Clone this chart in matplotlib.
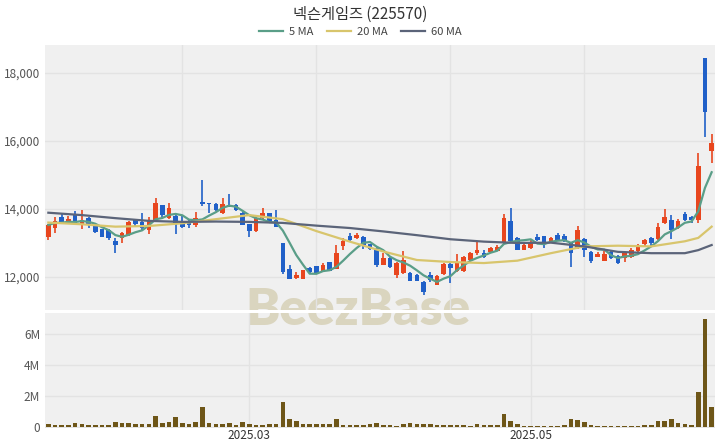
import matplotlib
matplotlib.use("Agg")
import matplotlib.pyplot as plt
from matplotlib.lines import Line2D
from matplotlib.patches import Rectangle
import numpy as np
import pandas as pd

plt.rcParams['font.family'] = ['Noto Sans CJK KR', 'DejaVu Sans']

title = "넥슨게임즈 (225570)"

# daily candles (open, high, low, close), Jan - Jun 2025
opens = [13180, 13450, 13770, 13580, 13820, 13540, 13720, 13550, 13400, 13380,
         13050, 13140, 13240, 13680, 13620, 13390, 13680, 14120, 13730, 13800,
         13580, 13600, 13530, 14210, 14170, 14160, 13880, 14130, 14130, 13870,
         13550, 13340, 13730, 13870, 13680, 12990, 12230, 11960, 11950, 12270,
         12320, 12160, 12430, 12240, 12900, 13210, 13160, 13180, 12960, 12840,
         12360, 12560, 12060, 12110, 12130, 12070, 11860, 12050, 11770, 12080,
         12390, 12180, 12180, 12500, 12700, 12700, 12730, 12770, 12990, 13640,
         13150, 12800, 12850, 13180, 13200, 13030, 13230, 13220, 12990, 12850,
         13130, 12740, 12600, 12480, 12740, 12610, 12550, 12580, 12750, 12970,
         13150, 13110, 13580, 13680, 13440, 13840, 13770, 13680, 18430, 15690]
highs = [13550, 13750, 13870, 13800, 13930, 13970, 13750, 13560, 13420, 13400,
         13150, 13330, 13650, 13700, 13870, 13750, 14310, 14130, 14170, 13820,
         13820, 13680, 13900, 14850, 14180, 14170, 14310, 14430, 14150, 13900,
         13560, 13820, 14020, 13890, 13970, 13000, 12350, 12140, 12210, 12300,
         12330, 12400, 12440, 12940, 13140, 13280, 13280, 13200, 12980, 12870,
         12720, 12580, 12440, 12760, 12150, 12100, 11880, 12140, 12050, 12400,
         12450, 12670, 12620, 12740, 13040, 12790, 12880, 12940, 13840, 14020,
         13170, 12980, 13100, 13250, 13210, 13170, 13280, 13270, 13010, 13510,
         13150, 12760, 12740, 12760, 12800, 12640, 12740, 12840, 12960, 13120,
         13170, 13600, 13990, 13820, 13700, 13920, 13790, 15640, 18440, 16200]
lows = [13100, 13300, 13580, 13560, 13560, 13400, 13430, 13300, 13180, 13100,
        12700, 13000, 13200, 13500, 13380, 13260, 13630, 13750, 13700, 13260,
        13450, 13430, 13480, 14100, 13880, 13950, 13860, 14050, 13930, 13520,
        13190, 13330, 13700, 13590, 13470, 12080, 11930, 11950, 11940, 12090,
        12100, 12150, 12170, 12230, 12800, 13020, 13120, 12830, 12800, 12300,
        12350, 12260, 11980, 12100, 11870, 11870, 11470, 11850, 11760, 12050,
        11830, 12150, 12160, 12480, 12650, 12550, 12700, 12750, 12980, 13040,
        12780, 12780, 12830, 13060, 12860, 13000, 13080, 13020, 12300, 12830,
        12600, 12420, 12580, 12470, 12530, 12390, 12450, 12560, 12730, 12900,
        12900, 13100, 13560, 13110, 13420, 13660, 13600, 13600, 16130, 15340]
closes = [13530, 13650, 13610, 13700, 13590, 13680, 13530, 13330, 13190, 13160,
          12950, 13280, 13630, 13560, 13440, 13680, 14170, 13820, 14020, 13580,
          13480, 13530, 13740, 14140, 14140, 13980, 14160, 14070, 13980, 13530,
          13340, 13720, 13870, 13610, 13480, 12140, 11950, 12050, 12200, 12150,
          12120, 12350, 12180, 12700, 13050, 13090, 13230, 12950, 12830, 12360,
          12570, 12280, 12420, 12500, 11890, 11890, 11550, 11920, 12030, 12370,
          12250, 12450, 12600, 12720, 12790, 12600, 12860, 12890, 13720, 13060,
          12800, 12940, 13020, 13090, 12980, 13150, 13090, 13100, 12700, 13380,
          12800, 12480, 12690, 12670, 12550, 12400, 12710, 12790, 12910, 13100,
          13000, 13480, 13770, 13390, 13650, 13680, 13670, 15260, 16840, 15950]

# volume in thousands of shares
volume_k = [170, 130, 130, 130, 215, 150, 130, 110, 130, 130,
            320, 215, 260, 150, 170, 190, 690, 260, 280, 600,
            260, 150, 280, 1290, 240, 150, 150, 240, 130, 300,
            150, 130, 130, 150, 170, 1610, 515, 390, 170, 150,
            150, 190, 170, 470, 130, 110, 90, 90, 150, 240,
            130, 110, 65, 150, 215, 150, 150, 170, 110, 110,
            110, 90, 110, 65, 150, 110, 90, 90, 800, 390,
            170, 65, 65, 65, 65, 65, 65, 130, 495, 430,
            300, 130, 65, 65, 65, 65, 65, 65, 65, 90,
            90, 365, 345, 495, 215, 170, 130, 2220, 6930, 1250]

# longer averages (they start before the visible window)
ma20_idx = [0, 5, 10, 15, 20, 25, 30, 35, 40, 45, 50, 55, 60, 65, 70, 75, 80, 85, 90, 95, 97, 99]
ma20_val = [13600, 13550, 13480, 13500, 13580, 13700, 13820, 13700, 13350, 13040, 12750,
            12500, 12440, 12410, 12480, 12700, 12900, 12920, 12900, 13050, 13150, 13480]
ma60_idx = [0, 5, 10, 15, 20, 25, 30, 35, 40, 45, 50, 55, 60, 65, 70, 75, 80, 85, 90, 95, 97, 99]
ma60_val = [13890, 13820, 13730, 13650, 13620, 13630, 13620, 13590, 13510, 13440, 13340,
            13230, 13110, 13040, 13000, 13010, 12900, 12740, 12700, 12700, 12790, 12940]

date_ticks = [30, 72]
date_labels = ["2025.03", "2025.05"]

RED = '#e8461e'
BLUE = '#2060c8'
BG = '#f0f0f0'
GRID = '#e3e3e3'

o = np.array(opens)
h = np.array(highs)
l = np.array(lows)
c = np.array(closes)
x = np.arange(len(c))
ma5 = pd.Series(c).rolling(5, min_periods=1).mean()
colors = [RED if cc >= oo else BLUE for oo, cc in zip(o, c)]

fig = plt.figure(figsize=(7.2, 4.48), dpi=100)
ax = fig.add_axes([45 / 720, 1 - 310 / 448, 670 / 720, 265 / 448])
axv = fig.add_axes([45 / 720, 1 - 428 / 448, 670 / 720, 115 / 448])

# panel backgrounds + watermark drawn below the axes
fig.patches.append(Rectangle((45 / 720, 1 - 310 / 448), 670 / 720, 265 / 448,
                             transform=fig.transFigure, facecolor=BG, zorder=-3))
fig.patches.append(Rectangle((45 / 720, 1 - 428 / 448), 670 / 720, 115 / 448,
                             transform=fig.transFigure, facecolor=BG, zorder=-3))
fig.text(0.497, 1 - 310 / 448, "BeezBase", fontsize=37, fontweight='heavy',
         color='#dad5bf', ha='center', va='center', zorder=-2,
         family=['Lato', 'DejaVu Sans'])
fig.patches.append(Rectangle((45 / 720, 1 - 313 / 448), 670 / 720, 3 / 448,
                             transform=fig.transFigure, facecolor='white', zorder=-1))

for a in (ax, axv):
    a.set_facecolor('none')
    for s in a.spines.values():
        s.set_visible(False)
    a.tick_params(length=0, labelsize=8.5, labelcolor='#555555')
    a.set_xlim(-0.5, len(c) - 0.5)

# price panel
ax.set_axisbelow(True)
ax.set_yticks([12000, 14000, 16000, 18000])
ax.set_yticklabels([f"{v:,}" for v in [12000, 14000, 16000, 18000]])
ax.set_xticks([20, 40, 60, 80])
ax.set_xticklabels([])
ax.grid(True, color=GRID, linewidth=1)
ax.set_ylim(11030, 18820)

ax.vlines(x, l, h, colors=colors, linewidth=1.2, zorder=2)
body = np.maximum(np.abs(c - o), 25)
ax.bar(x, body, bottom=np.minimum(o, c), width=0.68, color=colors, zorder=3)

ax.plot(x, ma5, color='#5a9e88', linewidth=1.6, zorder=4)
ax.plot(ma20_idx, ma20_val, color='#d8c56c', linewidth=1.6, zorder=4)
ax.plot(ma60_idx, ma60_val, color='#5b6479', linewidth=1.6, zorder=4)

# volume panel
axv.set_axisbelow(True)
vol = np.array(volume_k) * 1000
axv.bar(x, vol, width=0.68, color='#6e5618', zorder=3)
axv.set_ylim(-80000, 7.34e6)
axv.set_yticks([0, 2e6, 4e6, 6e6])
axv.set_yticklabels(["0", "2M", "4M", "6M"])
axv.set_xticks(date_ticks)
axv.set_xticklabels(date_labels, color='#333333')
axv.grid(True, color=GRID, linewidth=1)
axv.tick_params(axis='x', pad=1)

fig.text(0.5, 1 - 14 / 448, title, ha='center', va='center', fontsize=11, color='#333333')
handles = [Line2D([], [], color='#5a9e88', lw=1.6),
           Line2D([], [], color='#d8c56c', lw=1.6),
           Line2D([], [], color='#5b6479', lw=1.6)]
fig.legend(handles, ["5 MA", "20 MA", "60 MA"], loc='center', ncol=3,
           bbox_to_anchor=(0.5, 1 - 32 / 448), frameon=False, fontsize=8,
           handlelength=2.2, columnspacing=1.2, handletextpad=0.5,
           labelcolor='#444444')

fig.savefig("out.png", dpi=100)
